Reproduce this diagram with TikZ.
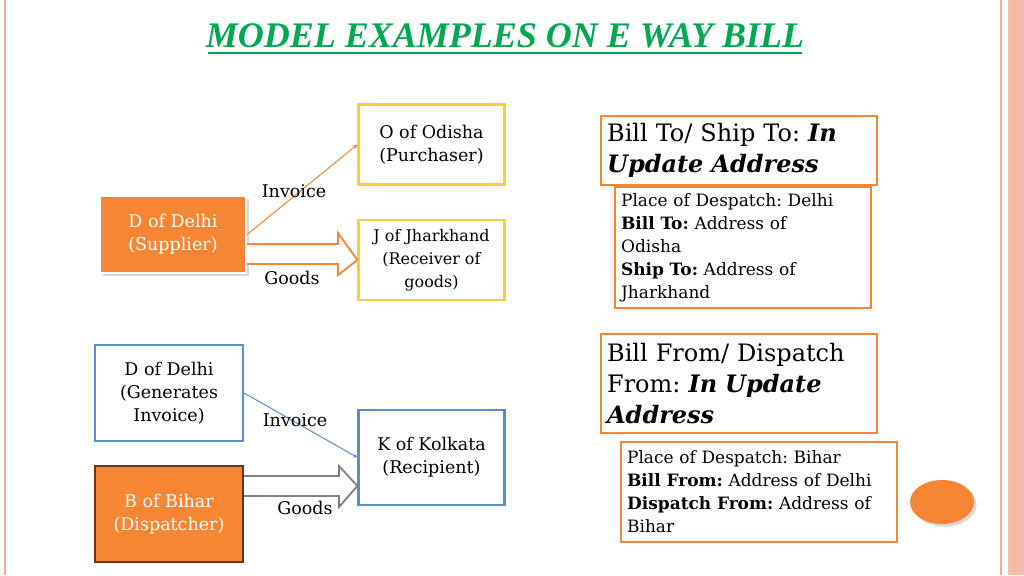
\documentclass[tikz,border=0pt]{standalone}
\usepackage{fontspec}
\setmainfont{DejaVu Serif}
\newfontfamily\ttlfont{Liberation Serif}
\frenchspacing
\usetikzlibrary{calc,shadows,shapes.geometric}
\definecolor{ttlgreen}{RGB}{0,168,80}
\definecolor{orng}{RGB}{246,134,52}
\definecolor{yel}{RGB}{244,208,63}
\definecolor{blu}{RGB}{91,139,208}
\definecolor{pnk}{RGB}{240,170,150}
\tikzset{
  box/.style={draw,line width=2.2pt,minimum width=146pt,align=center,font=\fontsize{17.5}{23}\selectfont},
  rbox/.style={draw=orng,line width=2.2pt,anchor=north west,align=left,inner sep=6pt},
  lbl/.style={font=\fontsize{17.5}{20}\selectfont},
}
\begin{document}
\begin{tikzpicture}[x=1pt,y=-1pt]
  \useasboundingbox (0,0) rectangle (1024,575);
  % borders
  \draw[pnk,line width=1.5pt] (5,0) -- (5,575);
  \draw[pnk,line width=1.5pt] (1001,0) -- (1001,575);
  \fill[pnk!80] (1008,0) rectangle (1024,575);
  \draw[orng!60,line width=1pt] (1014,0) -- (1014,575);
  % title
  \node[text=ttlgreen,font=\fontsize{36}{36}\ttlfont\bfseries\itshape] (title) at (505,36) {MODEL EXAMPLES ON E WAY BILL};
  \draw[ttlgreen,line width=2pt] (208,53) -- (802,53);
  % upper example
  \node[box,draw=yel,minimum height=80pt] (odisha) at (431.5,144.5) {O of Odisha\\(Purchaser)};
  \node[box,draw=yel,minimum height=80pt,font=\fontsize{16}{23}\selectfont] (jhar) at (431.5,260) {J of Jharkhand\\(Receiver of\\goods)};
  \node[box,draw=white,fill=orng,text=white,minimum height=77pt,drop shadow={opacity=0.3}] (sup) at (173,234.5) {D of Delhi\\(Supplier)};
  \draw[orng,line width=1pt,-stealth] (sup.east) -- (odisha.west);
  \draw[orng,line width=1.8pt,fill=white] (sup.east |- 0,244) -- (338,244) -- (338,233) -- (jhar.west) -- (338,275) -- (338,264) -- (sup.east |- 0,264);
  \node[lbl] (inv1) at (294,191) {Invoice};
  \node[lbl] (gds1) at (292,278) {Goods};
  % lower example
  \node[box,draw=blu,minimum height=96pt,minimum width=148pt] (gen) at (169,393) {D of Delhi\\(Generates\\Invoice)};
  \node[box,draw={rgb,255:red,110;green,50;blue,20},fill=orng,text=white,minimum height=96pt,minimum width=148pt] (bihar) at (169,514) {B of Bihar\\(Dispatcher)};
  \node[box,draw=blu,minimum height=95pt] (kol) at (431.5,457.5) {K of Kolkata\\(Recipient)};
  \draw[blu,line width=1pt,-stealth] (gen.east) -- (kol.west);
  \draw[gray,line width=1.8pt,fill=white] (bihar.east |- 0,476) -- (339,476) -- (339,466) -- (kol.west |- 0,486) -- (339,507) -- (339,496) -- (bihar.east |- 0,496);
  \node[lbl] (inv2) at (295,420) {Invoice};
  \node[lbl] (gds2) at (305,508) {Goods};
  % address boxes
  \node[rbox,text width=264pt,minimum height=69pt,font=\fontsize{24}{31}\selectfont] (billto) at (600,115) {Bill To/ Ship To: \textbf{\textit{In}}\\\textbf{\textit{Update Address}}};
  \node[rbox,text width=244pt,minimum height=121pt,font=\fontsize{17}{23}\selectfont] (desp1) at (614,186) {Place of Despatch: Delhi\\\textbf{Bill To:} Address of\\Odisha\\\textbf{Ship To:} Address of\\Jharkhand};
  \node[rbox,text width=264pt,minimum height=99pt,font=\fontsize{24}{31}\selectfont] (billfrom) at (600,333) {Bill From/ Dispatch\\From: \textbf{\textit{In Update}}\\\textbf{\textit{Address}}};
  \node[rbox,text width=264pt,minimum height=100pt,font=\fontsize{17}{23}\selectfont] (desp2) at (620,441) {Place of Despatch: Bihar\\\textbf{Bill From:} Address of Delhi\\\textbf{Dispatch From:} Address of\\Bihar};
  \node[ellipse,fill=orng,minimum width=64pt,minimum height=44pt,drop shadow={opacity=0.3}] (dot) at (942,502) {};
\end{tikzpicture}
\end{document}
